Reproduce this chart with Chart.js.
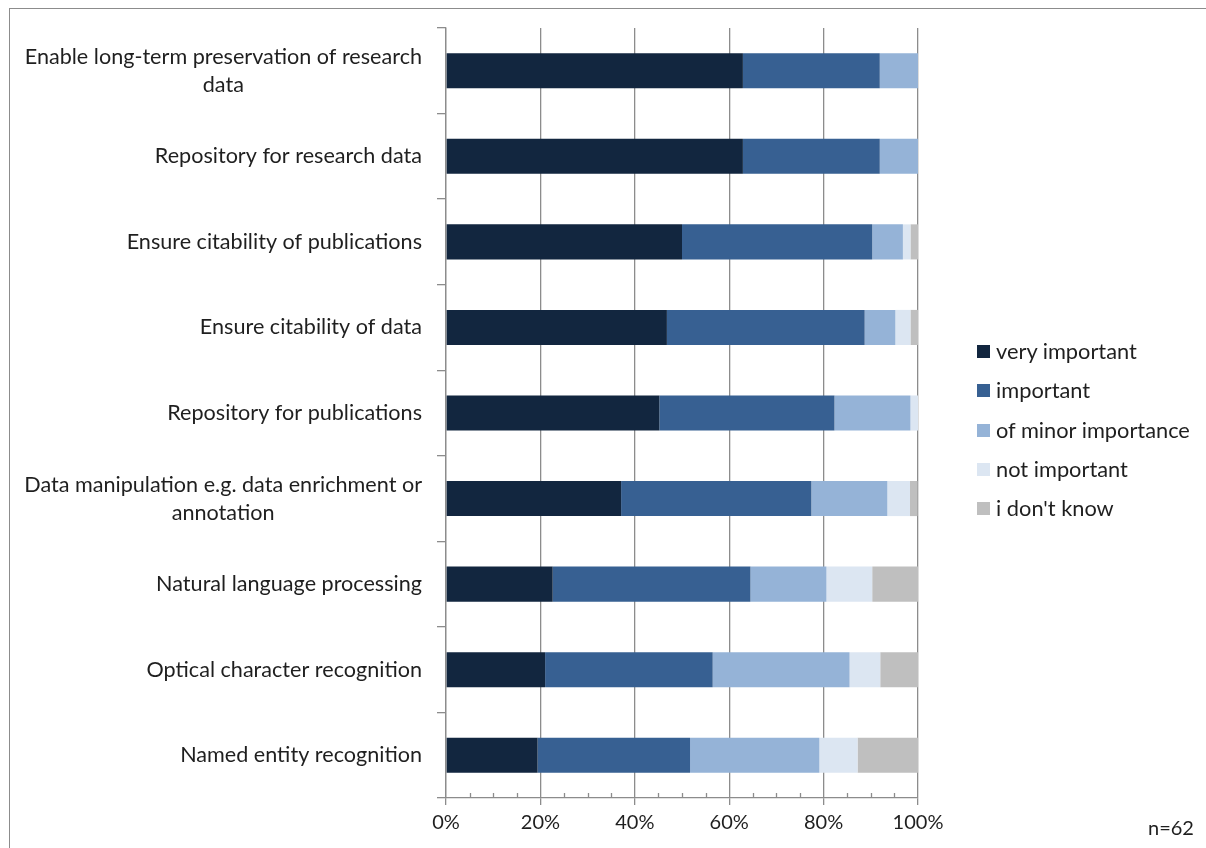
<!DOCTYPE html>
<html>
<head>
<meta charset="utf-8">
<script src="https://cdn.jsdelivr.net/npm/chart.js@4/dist/chart.umd.min.js"></script>
<style>
  body { margin: 0; background: #fff; }
  #wrap { position: relative; width: 1206px; height: 848px; overflow: hidden; font-family: Lato, "Open Sans", sans-serif; }
  #frame { position: absolute; left: 9px; top: 8px; width: 1300px; height: 900px; border-top: 1.5px solid #8c8c8c; border-left: 1.5px solid #8c8c8c; }
  canvas { position: absolute; left: 0; top: 0; }
  #legend { position: absolute; left: 977px; top: 337px; }
  .li { height: 39.3px; display: flex; align-items: flex-start; font-size: 21.8px; color: #1f1f1f; }
  .sw { width: 13px; height: 13px; margin-top: 8px; margin-right: 6px; }
  #n { position: absolute; left: 1148px; top: 815px; font-size: 20px; color: #1f1f1f; }
</style>
</head>
<body>
<div id="wrap">
  <div id="frame"></div>
  <canvas id="chart" width="1206" height="848"></canvas>
  <div id="legend"></div>
  <div id="n">n=62</div>
</div>
<script>
/* 100% stacked bars, share of answers per service (n=62) */

const CATEGORIES = [
  ["Enable long-term preservation of research", "data"],
  "Repository for research data",
  "Ensure citability of publications",
  "Ensure citability of data",
  "Repository for publications",
  ["Data manipulation e.g. data enrichment or", "annotation"],
  "Natural language processing",
  "Optical character recognition",
  "Named entity recognition",
];
const VERY_IMPORTANT = [62.9, 62.9, 50.0, 46.8, 45.2, 37.1, 22.6, 21.0, 19.4];
const IMPORTANT = [29.0, 29.0, 40.3, 41.9, 37.1, 40.3, 41.9, 35.5, 32.3];
const MINOR_IMPORTANCE = [8.1, 8.1, 6.5, 6.5, 16.1, 16.1, 16.1, 29.0, 27.4];
const NOT_IMPORTANT = [0, 0, 1.6, 3.2, 1.6, 4.8, 9.7, 6.5, 8.1];
const DONT_KNOW = [0, 0, 1.6, 1.6, 0, 1.6, 9.7, 8.1, 12.9];
const X_TICKS = [0, 20, 40, 60, 80, 100];

const SERIES = [
  { label: "very important", data: VERY_IMPORTANT, color: "#12263f" },
  { label: "important", data: IMPORTANT, color: "#376092" },
  { label: "of minor importance", data: MINOR_IMPORTANCE, color: "#95b3d7" },
  { label: "not important", data: NOT_IMPORTANT, color: "#dce6f2" },
  { label: "i don't know", data: DONT_KNOW, color: "#bfbfbf" },
];

const FONT = "Lato, 'Open Sans', sans-serif";
const TEXT = "#1f1f1f";
const GRID = "#8c8c8c";

// y labels: right edge fixed, wrapped lines centred on each other (like Excel)
const yLabels = {
  id: "yLabels",
  afterDraw(chart) {
    const { ctx, scales: { y }, chartArea } = chart;
    ctx.save();
    ctx.font = "21.6px " + FONT;
    ctx.fillStyle = TEXT;
    ctx.textAlign = "center";
    ctx.textBaseline = "middle";
    CATEGORIES.forEach((lab, i) => {
      const lines = Array.isArray(lab) ? lab : [lab];
      const w = Math.max(...lines.map((l) => ctx.measureText(l).width));
      const cx = chartArea.left - 24 - w / 2;
      const cy = y.getPixelForValue(i);
      lines.forEach((l, j) => ctx.fillText(l, cx, cy + (j - (lines.length - 1) / 2) * 28));
    });
    ctx.restore();
  },
};

// small inner ticks every 5% on the x axis
const minorTicks = {
  id: "minorTicks",
  afterDraw(chart) {
    const { ctx, scales: { x }, chartArea } = chart;
    ctx.save();
    ctx.strokeStyle = GRID;
    ctx.lineWidth = 1.3;
    for (let v = 5; v < 100; v += 5) {
      if (v % 20 === 0) continue;
      const px = Math.round(x.getPixelForValue(v)) + 0.5;
      ctx.beginPath();
      ctx.moveTo(px, chartArea.bottom);
      ctx.lineTo(px, chartArea.bottom - 5);
      ctx.stroke();
    }
    ctx.restore();
  },
};

new Chart(document.getElementById("chart"), {
  type: "bar",
  data: {
    labels: CATEGORIES,
    datasets: SERIES.map((s) => ({
      label: s.label, data: s.data, backgroundColor: s.color, borderWidth: 0,
      barPercentage: 0.41, categoryPercentage: 1,
    })),
  },
  options: {
    indexAxis: "y", responsive: false, animation: false,
    layout: { padding: { left: 0, right: 288, top: 28, bottom: 0 } },
    plugins: { legend: { display: false }, tooltip: { enabled: false } },
    scales: {
      x: {
        stacked: true, min: 0, max: 100,
        afterBuildTicks: (s) => { s.ticks = X_TICKS.map((v) => ({ value: v })); },
        afterFit: (s) => { s.height = 50; },
        ticks: { callback: (v) => v + "%", color: TEXT, font: { family: FONT, size: 20 }, padding: 6, maxRotation: 0 },
        grid: { color: GRID, lineWidth: 1.3, tickLength: 7 },
        border: { color: GRID, width: 1.3 },
      },
      y: {
        stacked: true,
        afterFit: (s) => { s.width = 446; },
        ticks: { display: false },
        grid: { drawOnChartArea: false, color: GRID, lineWidth: 1.3, tickLength: 9, offset: true },
        border: { color: GRID, width: 1.3 },
      },
    },
  },
  plugins: [yLabels, minorTicks],
});

// legend
const lg = document.getElementById("legend");
SERIES.forEach((s) => {
  const row = document.createElement("div");
  row.className = "li";
  row.innerHTML = '<div class="sw" style="background:' + s.color + '"></div><span>' + s.label + "</span>";
  lg.appendChild(row);
});
</script>
</body>
</html>
